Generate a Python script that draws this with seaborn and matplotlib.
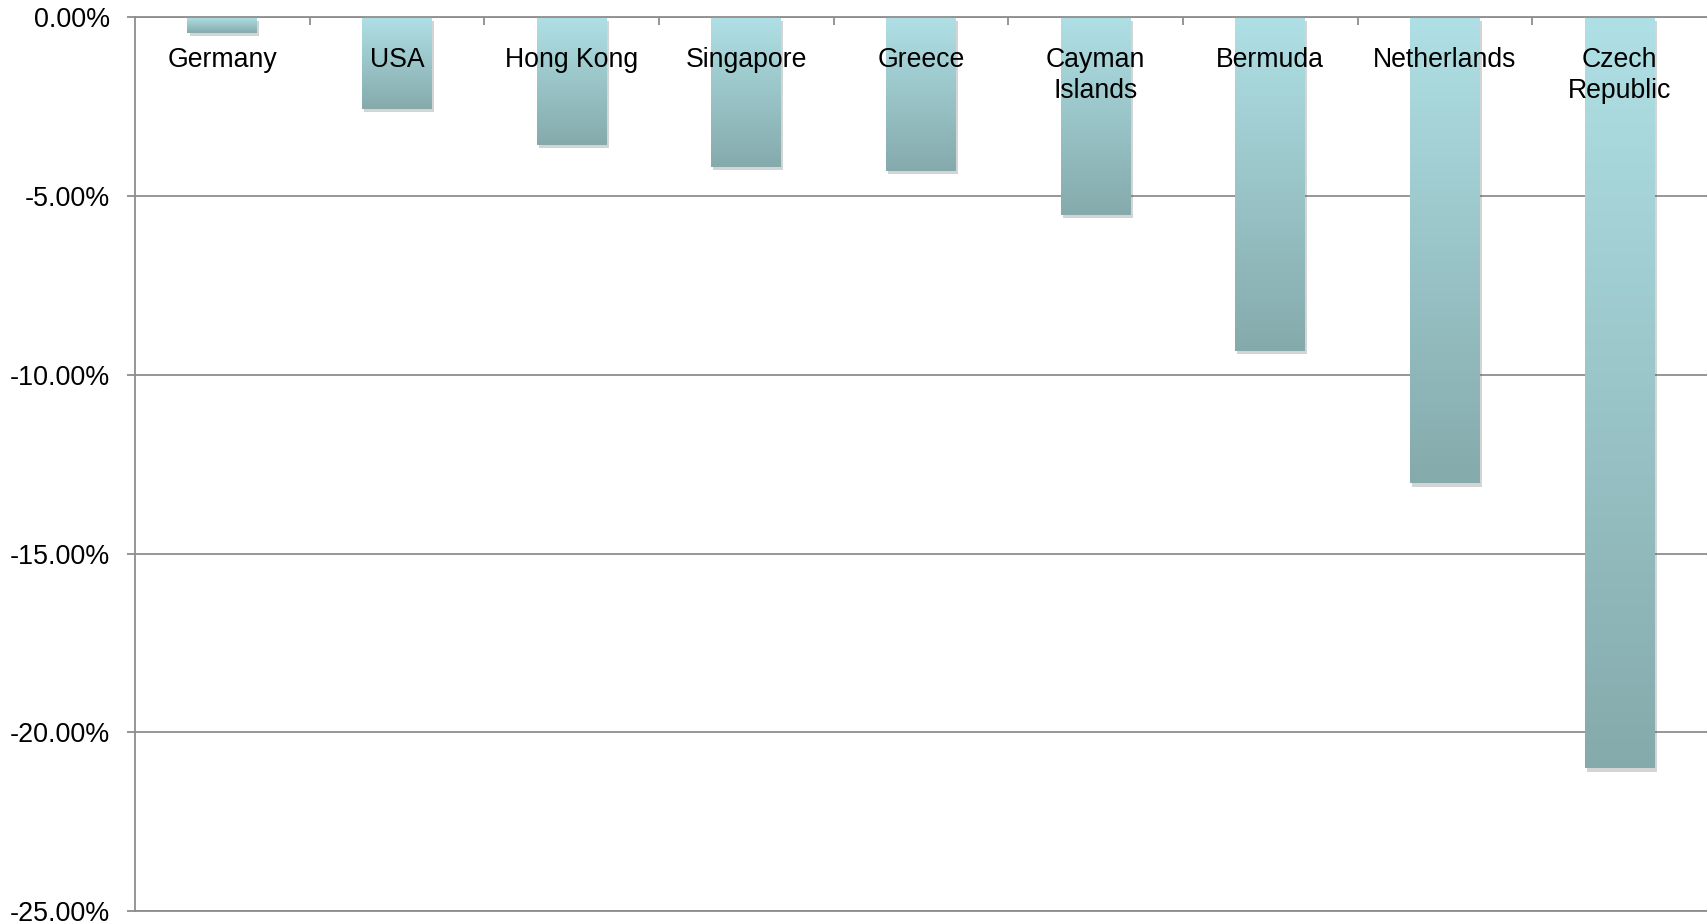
import matplotlib
matplotlib.use("Agg")
import matplotlib.pyplot as plt
import matplotlib.patheffects as pe
from matplotlib.ticker import MultipleLocator, FuncFormatter, FixedLocator
from matplotlib.colors import LinearSegmentedColormap
import numpy as np
import seaborn as sns

countries = ["Germany", "USA", "Hong Kong", "Singapore", "Greece",
             "Cayman\nIslands", "Bermuda", "Netherlands", "Czech\nRepublic"]
values = [-0.43, -2.56, -3.57, -4.18, -4.30, -5.53, -9.33, -13.04, -21.0]

sns.set_theme(style="white")
plt.rcParams["font.family"] = ["Liberation Sans", "DejaVu Sans"]

fig = plt.figure(figsize=(17.07, 9.24), dpi=100)
ax = fig.add_axes([0.0791, 0.0140, 0.9209, 0.9673])

sns.barplot(x=list(range(len(countries))), y=values, ax=ax, width=0.4,
            color="#9cc8cc", saturation=1, native_scale=False)

ax.set_ylim(-25, 0)
ax.set_xlim(-0.5, len(countries) - 0.5)

grid_color = "#8e8e8e"
ax.yaxis.set_major_locator(MultipleLocator(5))
ax.grid(axis="y", color=grid_color, linewidth=1.3, zorder=0)
ax.set_axisbelow(True)
ax.yaxis.set_major_formatter(FuncFormatter(
    lambda v, p: f"{(0.0 if abs(v) < 1e-9 else v):.2f}%"))
ax.tick_params(axis="y", which="major", left=True, length=6, width=1.3,
               color=grid_color, pad=12, labelsize=19.4, labelcolor="black")

ax.set_xticks([])
ax.xaxis.set_minor_locator(FixedLocator(np.arange(0.5, len(countries) - 0.5, 1.0)))
ax.xaxis.tick_top()
ax.tick_params(axis="x", which="minor", top=True, bottom=False, direction="in",
               length=6, width=1.3, color=grid_color)
ax.set_xlabel("")
ax.set_ylabel("")

ax.spines["right"].set_visible(False)
for side in ["left", "top", "bottom"]:
    ax.spines[side].set_color(grid_color)
    ax.spines[side].set_linewidth(1.3)

cmap = LinearSegmentedColormap.from_list("g", ["#afe0e5", "#85aaac"])
grad = np.linspace(0, 1, 256).reshape(-1, 1)
for bar in ax.patches:
    x0, y0 = bar.get_x(), bar.get_y()
    w, h = bar.get_width(), bar.get_height()
    bar.set_path_effects([pe.SimplePatchShadow(offset=(1.5, -2.5), shadow_rgbFace="#555555", alpha=0.25),
                          pe.Normal()])
    bar.set_edgecolor("none")
    top, bot = max(y0, y0 + h), min(y0, y0 + h)
    im = ax.imshow(grad, cmap=cmap, aspect="auto", extent=(x0, x0 + w, bot, top),
                   origin="upper", zorder=bar.get_zorder() + 0.1, interpolation="bicubic")
    im.set_clip_path(bar)

ax.set_xlim(-0.5, len(countries) - 0.5)
ax.set_ylim(-25, 0)

for i, name in enumerate(countries):
    ax.annotate(name, xy=(i, 0), xytext=(0, -21.5), textcoords="offset points",
                ha="center", va="top", fontsize=19.2, color="black",
                multialignment="center", linespacing=1.24, zorder=10)

fig.savefig("out.png", dpi=100)
